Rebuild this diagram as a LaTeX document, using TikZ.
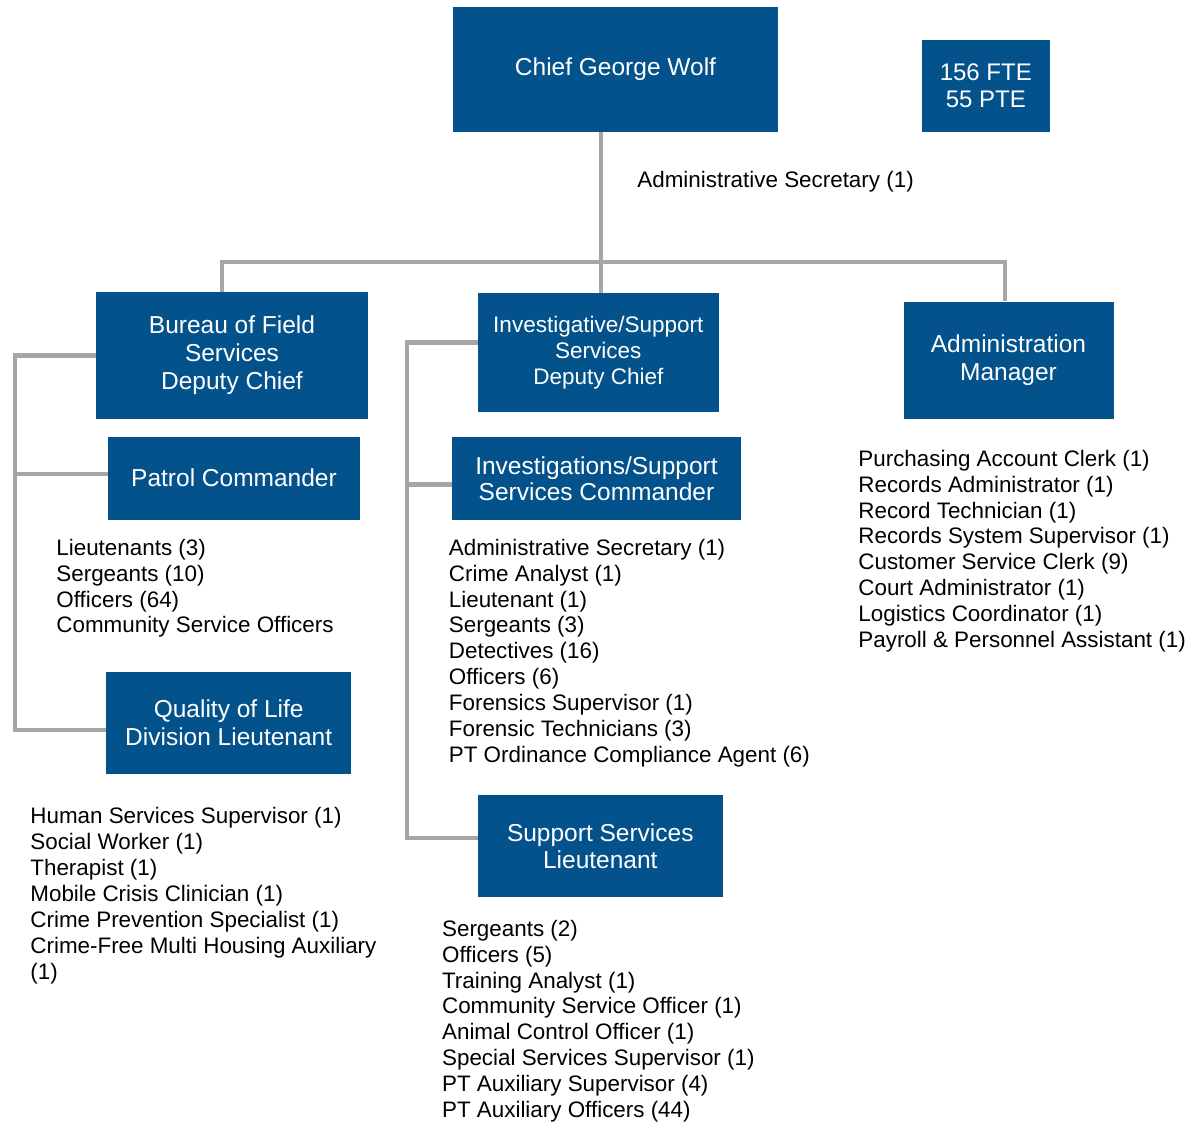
\documentclass[tikz,border=0pt]{standalone}
\usepackage{fontspec}
\setmainfont{Liberation Sans}
\definecolor{unitblue}{RGB}{4,82,140}
\definecolor{linkgray}{RGB}{166,166,166}

\begin{document}
\begin{tikzpicture}[x=0.5pt,y=-0.5pt,
  unit/.style={fill=unitblue,text=white,align=center,inner sep=0pt,font=\fontsize{12.25}{14}\selectfont},
  staff/.style={anchor=north west,inner sep=0pt,align=left,font=\fontsize{11.2}{12.95}\selectfont},
  link/.style={draw=linkgray,line width=2.4pt,line join=miter}]
		%%
  \useasboundingbox (0,0) rectangle (1189,1123);
  \node (Chief) at (615.5,69.5) [unit,minimum width=162.5pt,minimum height=62.5pt] {Chief George Wolf};
  \node (FTE) at (985.8,86) [unit,minimum width=63.8pt,minimum height=46pt,font=\fontsize{12}{13.5}\selectfont] {156 FTE\\55 PTE};
  \node (Bureau) at (232,355.5) [unit,minimum width=136pt,minimum height=63.5pt] {Bureau of Field\\Services\\Deputy Chief};
  \node (Invest) at (598.3,352.5) [unit,minimum width=120.3pt,minimum height=59.5pt,font=\fontsize{11.25}{13}\selectfont] {Investigative/Support\\Services\\Deputy Chief};
  \node (AdminMgr) at (1008.5,360.3) [unit,minimum width=105pt,minimum height=58.4pt] {Administration\\Manager};
  \node (Patrol) at (234,478) [unit,minimum width=125.7pt,minimum height=41.5pt] {Patrol Commander};
  \node (InvCmdr) at (596.5,478.5) [unit,minimum width=144.5pt,minimum height=41.5pt,font=\fontsize{12.25}{13}\selectfont] {Investigations/Support\\Services Commander};
  \node (QoL) at (228.7,723) [unit,minimum width=122.3pt,minimum height=51pt] {Quality of Life\\Division Lieutenant};
  \node (SupLt) at (600.3,846) [unit,minimum width=122.4pt,minimum height=51.2pt,font=\fontsize{12.25}{13.5}\selectfont] {Support Services\\Lieutenant};
  %
  \node (ChiefSec) at (637,170.6) [staff] {Administrative Secretary (1)};
  \node (PatrolStaff) at (56,538.6) [staff] {Lieutenants (3)\\Sergeants (10)\\Officers (64)\\Community Service Officers};
  \node (QoLStaff) at (30,807.3) [staff] {Human Services Supervisor (1)\\Social Worker (1)\\Therapist (1)\\Mobile Crisis Clinician (1)\\Crime Prevention Specialist (1)\\Crime-Free Multi Housing Auxiliary\\(1)};
  \node (InvStaff) at (448.5,538.6) [staff] {Administrative Secretary (1)\\Crime Analyst (1)\\Lieutenant (1)\\Sergeants (3)\\Detectives (16)\\Officers (6)\\Forensics Supervisor (1)\\Forensic Technicians (3)\\PT Ordinance Compliance Agent (6)};
  \node (SupStaff) at (441.7,919.6) [staff] {Sergeants (2)\\Officers (5)\\Training Analyst (1)\\Community Service Officer (1)\\Animal Control Officer (1)\\Special Services Supervisor (1)\\PT Auxiliary Supervisor (4)\\PT Auxiliary Officers (44)};
  \node (AdminStaff) at (858,449.6) [staff] {Purchasing Account Clerk (1)\\Records Administrator (1)\\Record Technician (1)\\Records System Supervisor (1)\\Customer Service Clerk (9)\\Court Administrator (1)\\Logistics Coordinator (1)\\Payroll \& Personnel Assistant (1)};
  %
  \coordinate (busL) at (222,262);
  \coordinate (busM) at (601,262);
  \coordinate (busR) at (1005,262);
  \coordinate (railL) at (15,0);
  \coordinate (railM) at (407,0);
  \coordinate (patIn) at ([yshift=2pt]Patrol.west);
  \coordinate (qolIn) at ([yshift=-3.5pt]QoL.west);
  \coordinate (invOut) at ([yshift=5pt]Invest.west);
  \coordinate (cmdIn) at ([yshift=-3pt]InvCmdr.west);
  \coordinate (supIn) at ([yshift=4pt]SupLt.west);
  %
  \draw [link] (Chief.south -| busM) -- (Invest.north -| busM);
  \draw [link] (Bureau.north -| busL) -- (busL) -- (busR) -- (AdminMgr.north -| busR);
  \draw [link] (Bureau.west) -| (railL |- qolIn) -- (qolIn);
  \draw [link] (patIn) -- (railL |- patIn);
  \draw [link] (invOut) -| (railM |- supIn) -- (supIn);
  \draw [link] (cmdIn) -- (railM |- cmdIn);
		%
\end{tikzpicture}
\end{document}
